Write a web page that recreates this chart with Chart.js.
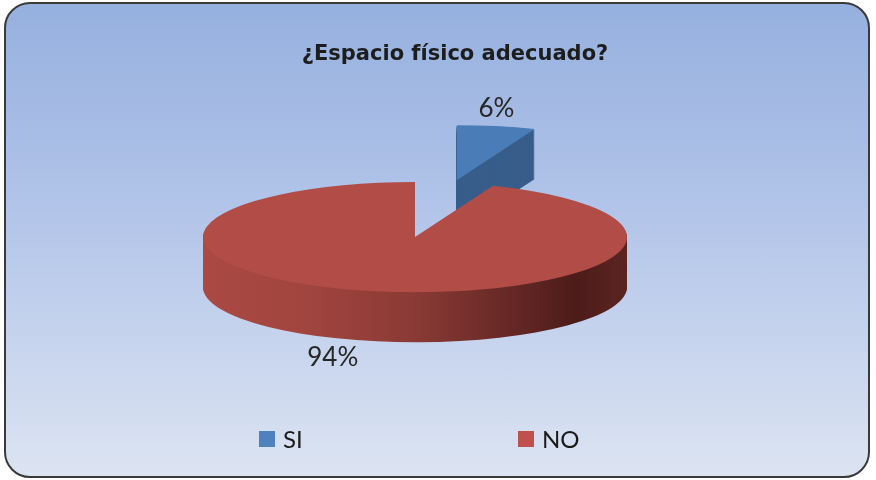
<!DOCTYPE html>
<html>
<head>
<meta charset="utf-8">
<script src="https://cdn.jsdelivr.net/npm/chart.js@4/dist/chart.umd.min.js"></script>
<style>
  html, body { margin: 0; padding: 0; background: #fff; }
  #wrap { position: relative; width: 876px; height: 480px; overflow: hidden; }
  #frame {
    position: absolute; left: 4px; top: 2px; width: 862px; height: 472px;
    border: 2px solid #3a3a3a; border-radius: 26px;
    background: linear-gradient(to bottom, #96b0df 0%, #b3c5e9 45%, #dce4f2 100%);
  }
  #chart { position: absolute; left: 0; top: 0; }
  #legend { position: absolute; left: 259px; top: 424px; display: flex; font: 24px Lato, sans-serif; color: #1a1a1a; }
  .item { width: 259px; display: flex; align-items: center; }
  .box { width: 16px; height: 16px; margin-right: 8px; }
</style>
</head>
<body>
<div id="wrap">
  <div id="frame"></div>
  <canvas id="chart" width="876" height="480"></canvas>
  <div id="legend"></div>
</div>
<script>
const TITLE = '¿Espacio físico adecuado?';
const LABELS = ['SI', 'NO'];
const VALUES = [6, 94];
const LEGEND_COLORS = ['#4f81bd', '#c0504d'];
const TOP_COLORS = ['#4a7cb8', '#b14c47'];
const EXPLODE = [1.05, 0];

// look of the fake 3D: tilt of the disc and thickness, relative to the horizontal radius
const TILT = 0.26;
const DEPTH_RATIO = 0.236;
// the disc sits a bit left of the title centre
const SHIFT_X = -40;

// legend as plain html
const legend = document.getElementById('legend');
LABELS.forEach((lab, i) => {
  const it = document.createElement('div');
  it.className = 'item';
  it.innerHTML = '<span class="box" style="background:' + LEGEND_COLORS[i] + '"></span><span>' + lab + '</span>';
  legend.appendChild(it);
});

function geom(chart) {
  const a = chart.chartArea;
  const meta = chart.getDatasetMeta(0);
  const R = meta.data[0].outerRadius;
  const cx = (a.left + a.right) / 2, cy = (a.top + a.bottom) / 2;
  const rx = (a.right - a.left) / 2;
  return { meta, R, cx, cy, sx: rx / R, sy: rx * TILT / R, depth: rx * DEPTH_RATIO };
}

function applyT(ctx, g) {
  ctx.translate(g.cx + SHIFT_X, g.cy);
  ctx.scale(g.sx, g.sy);
  ctx.translate(-g.cx, -g.cy);
}

function sideFill(ctx, arc, i) {
  if (i === 0) return '#385d8b';
  const gr = ctx.createLinearGradient(arc.x - arc.outerRadius, 0, arc.x + arc.outerRadius, 0);
  gr.addColorStop(0, '#ab4944');
  gr.addColorStop(0.23, '#a2453f');
  gr.addColorStop(0.5, '#8a3a35');
  gr.addColorStop(0.7, '#6a2a27');
  gr.addColorStop(0.88, '#4c1c1a');
  gr.addColorStop(1, '#5c2421');
  return gr;
}

const pie3d = {
  id: 'pie3d',
  afterDatasetsUpdate(chart) {
    chart.getDatasetMeta(0).data.forEach((arc, i) => {
      const d = EXPLODE[i] * arc.outerRadius;
      if (!d) return;
      const mid = (arc.startAngle + arc.endAngle) / 2;
      arc.x += Math.cos(mid) * d;
      arc.y += Math.sin(mid) * d;
    });
  },
  beforeDatasetsDraw(chart) {
    const ctx = chart.ctx;
    const g = geom(chart);
    ctx.save();
    // side walls: the slice pushed down pixel by pixel
    g.meta.data.forEach((arc, i) => {
      const fill = sideFill(ctx, arc, i);
      for (let k = Math.round(g.depth); k >= 1; k--) {
        ctx.save();
        ctx.translate(0, k);
        applyT(ctx, g);
        ctx.beginPath();
        ctx.moveTo(arc.x, arc.y);
        ctx.arc(arc.x, arc.y, arc.outerRadius, arc.startAngle, arc.endAngle);
        ctx.closePath();
        ctx.fillStyle = fill;
        ctx.fill();
        ctx.restore();
      }
    });
    // top faces are drawn by chart.js in the squashed space
    applyT(ctx, g);
  },
  afterDatasetsDraw(chart) {
    const ctx = chart.ctx;
    ctx.restore();
    const g = geom(chart);
    const total = VALUES.reduce((s, v) => s + v, 0);
    ctx.save();
    ctx.font = '26px Lato, sans-serif';
    ctx.fillStyle = '#262626';
    ctx.textBaseline = 'middle';
    g.meta.data.forEach((arc, i) => {
      const mid = (arc.startAngle + arc.endAngle) / 2;
      const u = arc.x + Math.cos(mid) * arc.outerRadius;
      const v = arc.y + Math.sin(mid) * arc.outerRadius;
      const px = g.cx + SHIFT_X + (u - g.cx) * g.sx;
      const py = g.cy + (v - g.cy) * g.sy;
      const txt = Math.round(VALUES[i] / total * 100) + '%';
      if (Math.sin(mid) < 0) {
        ctx.textAlign = 'center';
        ctx.fillText(txt, px, py - 17);
      } else {
        const left = Math.cos(mid) < 0;
        ctx.textAlign = left ? 'right' : 'left';
        ctx.fillText(txt, px + (left ? -17 : 17), py + g.depth + 16);
      }
    });
    ctx.restore();
  }
};

new Chart(document.getElementById('chart'), {
  type: 'pie',
  data: {
    labels: LABELS,
    datasets: [{
      data: VALUES,
      backgroundColor: TOP_COLORS,
      borderWidth: 0,
      clip: false
    }]
  },
  options: {
    responsive: false,
    animation: false,
    events: [],
    layout: { padding: { left: 243, right: 209, top: 0, bottom: 73 } },
    plugins: {
      legend: { display: false },
      tooltip: { enabled: false },
      title: {
        display: true,
        text: TITLE,
        color: '#1d1d1d',
        font: { family: 'DejaVu Sans', weight: 'bold', size: 21 },
        padding: { top: 42, bottom: 0 }
      }
    }
  },
  plugins: [pie3d]
});
</script>
</body>
</html>
